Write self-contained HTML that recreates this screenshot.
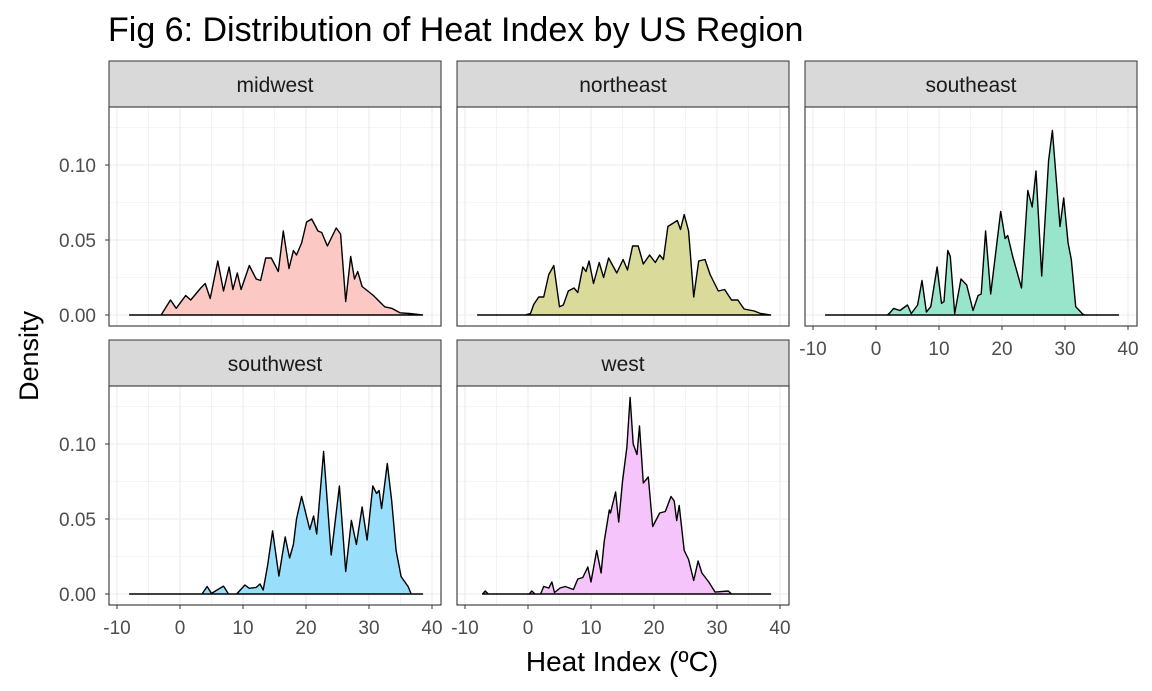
<!DOCTYPE html>
<html><head><meta charset="utf-8"><style>
body{margin:0;background:#fff;}
svg{display:block;font-family:"Liberation Sans",sans-serif;}
</style></head><body>
<svg id="chart" width="1152" height="691" xmlns="http://www.w3.org/2000/svg">
<text x="108" y="41" font-size="34" fill="#000">Fig 6: Distribution of Heat Index by US Region</text>
<text x="622" y="671" font-size="28" fill="#000" text-anchor="middle">Heat Index (ºC)</text>
<text transform="translate(38,356) rotate(-90)" font-size="27" fill="#000" text-anchor="middle">Density</text>
</svg>
<script>
const regions = ["midwest","northeast","southeast","southwest","west"];
const fills = ["#fbc8c4","#dadb9b","#99e5cb","#99dffb","#f5c4fa"];
const midwest = [[-8,0],[-3,0],[-1.5,.010],[-0.6,.0045],[0.9,.013],[1.7,.010],[3.3,.018],[4.0,.021],[4.8,.011],[6.0,.036],[6.9,.016],[7.8,.032],[8.4,.017],[9.1,.028],[9.7,.017],[11.0,.033],[12.1,.024],[12.8,.023],[13.6,.038],[14.5,.038],[15.6,.029],[16.4,.056],[17.3,.031],[18.0,.043],[18.5,.040],[19.3,.048],[20.1,.062],[20.9,.064],[21.9,.056],[22.5,.055],[23.4,.046],[24.8,.058],[25.5,.054],[26.3,.009],[27.1,.039],[27.7,.024],[28.2,.029],[28.9,.019],[30.7,.013],[32.5,.0055],[33.6,.0045],[34.9,.0015],[36.4,.001],[38.5,0]];
const northeast = [[-8,0],[-0.5,0],[0.4,.001],[0.9,.007],[1.7,.012],[2.5,.012],[3.3,.027],[4.1,.033],[5.0,.0055],[5.6,.0067],[6.4,.016],[7.3,.018],[7.9,.015],[8.7,.032],[9.2,.029],[9.7,.036],[10.4,.021],[11.3,.035],[12.0,.025],[12.8,.038],[14.1,.028],[15.1,.037],[15.8,.030],[16.6,.046],[17.5,.046],[18.3,.034],[19.3,.040],[20.2,.035],[20.9,.040],[21.5,.037],[22.2,.059],[23.7,.063],[24.2,.057],[24.8,.067],[25.5,.056],[26.3,.012],[27.1,.036],[28.1,.037],[28.9,.027],[30.2,.016],[31.2,.017],[32.3,.010],[33.3,.010],[34.3,.004],[35.9,.0027],[36.9,.001],[38.5,0]];
const southeast = [[-8,0],[1.8,0],[2.2,.0015],[2.8,.0044],[3.8,.003],[5.0,.0067],[5.6,.001],[6.6,.0067],[7.3,.023],[8.0,.002],[8.7,.0056],[9.7,.032],[10.4,.0078],[10.8,.009],[11.4,.043],[11.8,.039],[12.5,.001],[13.5,.024],[14.4,.020],[15.4,.003],[16.2,.013],[16.7,.014],[17.4,.056],[18.2,.014],[19.8,.069],[20.5,.051],[20.9,.053],[21.7,.039],[23.1,.018],[24.1,.083],[24.8,.072],[25.4,.096],[26.3,.026],[27.4,.103],[28.0,.123],[29.2,.059],[29.8,.078],[30.5,.048],[31.0,.037],[31.7,.0056],[32.8,.0007],[33.2,0],[38.5,0]];
const southwest = [[-8,0],[3.5,0],[4.3,.005],[5.0,.0004],[6.9,.0053],[7.7,0],[9.0,0],[10.3,.006],[11.0,.0038],[12.1,.0044],[12.7,.0067],[13.2,.0027],[13.9,.019],[14.7,.042],[15.7,.012],[16.7,.038],[17.4,.024],[18.0,.033],[18.5,.050],[19.3,.065],[20.6,.043],[21.2,.052],[21.7,.040],[22.8,.095],[24.0,.026],[25.3,.072],[26.3,.015],[27.2,.049],[28.0,.033],[28.9,.058],[29.7,.036],[30.6,.072],[31.2,.067],[31.6,.069],[32.0,.057],[32.9,.087],[33.6,.062],[34.3,.029],[35.1,.0116],[36.2,.005],[36.7,0],[38.5,0]];
const west = [[-7.2,0],[-6.8,.002],[-6.3,0],[0.2,0],[0.6,.002],[1.1,0],[2.0,0],[2.5,.005],[3.3,.004],[3.8,.008],[4.2,.001],[5.1,.004],[5.9,.005],[7.2,.003],[7.9,.01],[8.7,.011],[9.5,.018],[10.0,.008],[10.9,.029],[11.6,.014],[12.1,.035],[12.9,.056],[13.1,.054],[13.9,.068],[14.4,.048],[15.0,.075],[15.7,.098],[16.2,.131],[16.7,.100],[17.3,.093],[17.7,.112],[18.3,.074],[19.1,.078],[19.8,.045],[20.9,.054],[21.8,.055],[22.7,.065],[23.2,.062],[23.6,.049],[24.0,.059],[24.8,.029],[25.5,.023],[26.3,.009],[27.0,.022],[27.6,.014],[28.7,.008],[29.7,.0013],[31.8,.002],[32.3,0],[38.5,0]];
const series = [midwest,northeast,southeast,southwest,west];
const xTicks = [-10,0,10,20,30,40];
const xTickLabels = ["-10","0","10","20","30","40"];
const yTicks = [0,0.05,0.10];
const yTickLabels = ["0.00","0.05","0.10"];

const NS="http://www.w3.org/2000/svg";
const svg=document.getElementById('chart');
function mk(tag,attrs,parent){const e=document.createElementNS(NS,tag);for(const k in attrs)e.setAttribute(k,attrs[k]);(parent||svg).appendChild(e);return e;}
const XMIN=-11.27,XMAX=41.43,YMIN=-0.00733,YMAX=0.13867,PW=332,PH=219;
const lefts=[109,457,805,109,457], tops=[107,107,107,386,386];
const showY=[true,false,false,true,false], showX=[false,false,true,true,true];
regions.forEach((r,i)=>{
  const L=lefts[i],T=tops[i];
  const sx=v=>L+(v-XMIN)/(XMAX-XMIN)*PW;
  const sy=v=>T+PH-(v-YMIN)/(YMAX-YMIN)*PH;
  const g=mk('g',{});
  
  
  const strip=mk('rect',{x:L,y:T-46,width:PW,height:46,fill:'#d9d9d9',stroke:'#333','stroke-width':1},g);
  
  
  const st=mk('text',{x:L+PW/2,y:T-15,'font-size':21,fill:'#1a1a1a','text-anchor':'middle'},g);
  st.textContent=r;
  
  
  for(let v=-10;v<=40;v+=5){const x=sx(v);mk('line',{x1:x,x2:x,y1:T,y2:T+PH,stroke:'#ebebeb','stroke-width':v%10===0?1.1:0.6},g);}
  for(let k=0;k<=5;k++){const v=k*0.025;const y=sy(v);mk('line',{x1:L,x2:L+PW,y1:y,y2:y,stroke:'#ebebeb','stroke-width':k%2===0?1.1:0.6},g);}
  const d=series[i];
  let p='M'+sx(d[0][0])+','+sy(0);
  d.forEach(pt=>{p+=' L'+sx(pt[0]).toFixed(1)+','+sy(pt[1]).toFixed(1);});
  p+=' L'+sx(d[d.length-1][0])+','+sy(0)+' Z';
  const a=mk('path',{d:p,fill:fills[i],stroke:'#000','stroke-width':1.4,'stroke-linejoin':'round'},g);
  
  
  mk('rect',{x:L,y:T,width:PW,height:PH,fill:'none',stroke:'#333','stroke-width':1.1},g);
  if(showY[i]){
    yTicks.forEach((v,k)=>{const y=sy(v);mk('line',{x1:L-4,x2:L,y1:y,y2:y,stroke:'#333'},g);
      const t=mk('text',{x:L-13,y:y+7,'font-size':19,fill:'#4d4d4d','text-anchor':'end'},g);t.textContent=yTickLabels[k];
      
      });
  }
  if(showX[i]){
    xTicks.forEach((v,k)=>{const x=sx(v);mk('line',{x1:x,x2:x,y1:T+PH,y2:T+PH+4,stroke:'#333'},g);
      const t=mk('text',{x:x,y:T+PH+29,'font-size':19,fill:'#4d4d4d','text-anchor':'middle'},g);t.textContent=xTickLabels[k];
      
      });
  }
});
</script>
</body></html>
